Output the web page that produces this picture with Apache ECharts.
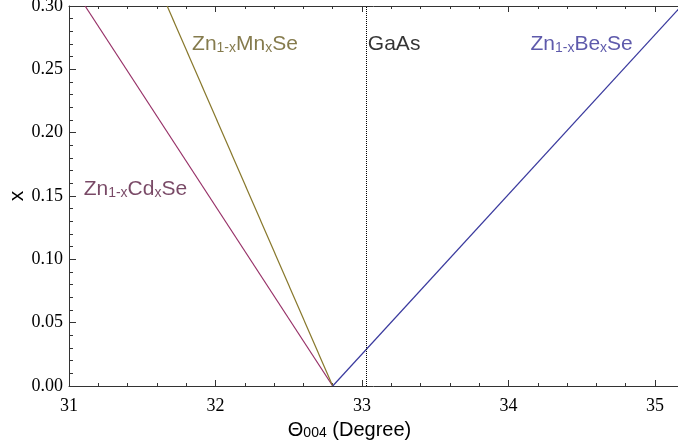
<!DOCTYPE html>
<html>
<head>
<meta charset="utf-8">
<script src="https://cdn.jsdelivr.net/npm/echarts@6/dist/echarts.min.js"></script>
<style>
  html, body { margin: 0; padding: 0; background: #fff; }
  #main { width: 678px; height: 447px; }
</style>
</head>
<body>
<div id="main"></div>
<script>
// composition x vs Bragg angle of the (004) reflection
var xValues = [0, 0.30];
var cdTheta = [32.8, 31.11];
var mnTheta = [32.8, 31.67];
var beTheta = [32.8, 35.18];
var gaAsTheta = 33.03;

var xTicks = [31, 32, 33, 34, 35];

function pairs(thetas) {
  return thetas.map(function (t, i) { return [t, xValues[i]]; });
}

var sans = "'Liberation Sans', Arial, sans-serif";
var serif = "'Liberation Serif', 'Times New Roman', serif";

function richStyle(color) {
  return {
    n: { fontFamily: sans, fontSize: 21, color: color, lineHeight: 26, verticalAlign: "bottom" },
    s: { fontFamily: sans, fontSize: 14, color: color, lineHeight: 20, verticalAlign: "bottom" }
  };
}

function textMark(pos, text, color) {
  return {
    type: "scatter",
    symbolSize: 0,
    silent: true,
    data: [pos],
    label: {
      show: true,
      position: "right",
      distance: 0,
      formatter: text,
      rich: richStyle(color)
    }
  };
}

var chart = echarts.init(document.getElementById("main"));

var tickStyle = { color: "#333", width: 1 };

var option = {
  animation: false,
  grid: { left: 69, right: 0, top: 6, bottom: 61, outerBoundsMode: "none", containLabel: false },
  xAxis: [
    {
      type: "value",
      min: 31,
      max: 35.157,
      interval: 1,
      axisLine: { onZero: false, lineStyle: { color: "#333", width: 1 } },
      axisTick: { inside: true, length: 6, lineStyle: tickStyle },
      minorTick: { show: true, splitNumber: 5, length: 3, lineStyle: tickStyle },
      splitLine: { show: false },
      axisLabel: {
        margin: 11,
        fontFamily: serif,
        fontSize: 18,
        color: "#000",
        formatter: function (v) {
          var r = Math.round(v);
          return xTicks.indexOf(r) >= 0 && Math.abs(v - r) < 1e-6 ? String(r) : "";
        }
      },
      name: "{t|\u0398}{s|004}{t| (Degree)}",
      nameLocation: "middle",
      nameGap: 28,
      nameTextStyle: {
        padding: [0, 48, 0, 0],
        rich: {
          t: { fontFamily: sans, fontSize: 20, color: "#000", lineHeight: 26, verticalAlign: "bottom" },
          s: { fontFamily: sans, fontSize: 14, color: "#000", lineHeight: 20, verticalAlign: "bottom" }
        }
      }
    },
    {
      type: "value",
      position: "top",
      min: 31,
      max: 35.157,
      interval: 1,
      axisLine: { onZero: false, lineStyle: { color: "#333", width: 1 } },
      axisTick: { inside: true, length: 6, lineStyle: tickStyle },
      minorTick: { show: true, splitNumber: 5, length: 3, lineStyle: tickStyle },
      splitLine: { show: false },
      axisLabel: { show: false }
    }
  ],
  yAxis: {
    type: "value",
    min: 0,
    max: 0.3,
    interval: 0.05,
    axisLine: { onZero: false, lineStyle: { color: "#333", width: 1 } },
    axisTick: { inside: true, length: 7, lineStyle: tickStyle },
    minorTick: { show: true, splitNumber: 5, length: 4, lineStyle: tickStyle },
    splitLine: { show: false },
    axisLabel: {
      margin: 6,
      fontFamily: serif,
      fontSize: 18,
      color: "#000",
      formatter: function (v) { return v.toFixed(2); }
    },
    name: "x",
    nameLocation: "middle",
    nameGap: 41,
    nameMoveOverlap: false,
    nameRotate: 90,
    nameTextStyle: { fontFamily: sans, fontSize: 21, color: "#000" }
  },
  series: [
    {
      name: "Cd",
      type: "line",
      data: pairs(cdTheta),
      showSymbol: false,
      clip: true,
      lineStyle: { color: "#962f66", width: 1.2 }
    },
    {
      name: "Mn",
      type: "line",
      data: pairs(mnTheta),
      showSymbol: false,
      clip: true,
      lineStyle: { color: "#87772a", width: 1.2 }
    },
    {
      name: "Be",
      type: "line",
      data: pairs(beTheta),
      showSymbol: false,
      clip: true,
      lineStyle: { color: "#3a3a9e", width: 1.2 },
      markLine: {
        silent: true,
        symbol: "none",
        label: { show: false },
        lineStyle: { color: "#000", type: "dotted", width: 1 },
        data: [{ xAxis: gaAsTheta }]
      }
    },
    textMark([31.84, 0.2716], "{n|Zn}{s|1-x}{n|Mn}{s|x}{n|Se}", "#665a20"),
    textMark([33.04, 0.2716], "{n|GaAs}", "#000"),
    textMark([34.15, 0.2716], "{n|Zn}{s|1-x}{n|Be}{s|x}{n|Se}", "#363196"),
    textMark([31.10, 0.157], "{n|Zn}{s|1-x}{n|Cd}{s|x}{n|Se}", "#581c40")
  ]
};

chart.setOption(option);
</script>
</body>
</html>
